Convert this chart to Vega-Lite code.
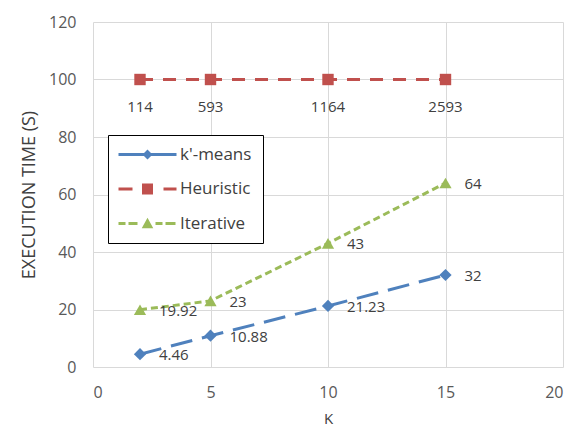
{
  "$schema": "https://vega.github.io/schema/vega-lite/v6.json",
  "width": 470,
  "height": 345,
  "autosize": {"type": "none"},
  "padding": {"left": 93, "top": 22, "right": 21, "bottom": 61},
  "background": "#ffffff",
  "data": {
    "values": [
      {"series": "k'-means", "k": 2, "time": 4.46},
      {"series": "k'-means", "k": 5, "time": 10.88},
      {"series": "k'-means", "k": 10, "time": 21.23},
      {"series": "k'-means", "k": 15, "time": 32},
      {"series": "Heuristic", "k": 2, "time": 100, "actual": 114},
      {"series": "Heuristic", "k": 5, "time": 100, "actual": 593},
      {"series": "Heuristic", "k": 10, "time": 100, "actual": 1164},
      {"series": "Heuristic", "k": 15, "time": 100, "actual": 2593},
      {"series": "Iterative", "k": 2, "time": 19.92},
      {"series": "Iterative", "k": 5, "time": 23},
      {"series": "Iterative", "k": 10, "time": 43},
      {"series": "Iterative", "k": 15, "time": 64}
    ]
  },
  "encoding": {
    "x": {
      "field": "k",
      "type": "quantitative",
      "scale": {"domain": [0, 20], "nice": false, "zero": false},
      "axis": {"values": [0, 5, 10, 15, 20], "title": "K", "labelPadding": 17, "titlePadding": 11, "titleFontSize": 15}
    },
    "y": {
      "field": "time",
      "type": "quantitative",
      "scale": {"domain": [0, 120], "nice": false},
      "axis": {"values": [0, 20, 40, 60, 80, 100, 120], "title": "EXECUTION TIME (S)", "labelPadding": 17, "titlePadding": 10}
    }
  },
  "layer": [
    {
      "mark": {"type": "line", "strokeWidth": 3},
      "encoding": {
        "color": {
          "field": "series",
          "type": "nominal",
          "scale": {"domain": ["k'-means", "Heuristic", "Iterative"], "range": ["#4f81bd", "#c0504d", "#9bbb59"]},
          "legend": {
            "title": null,
            "orient": "none",
            "legendX": 15,
            "legendY": 113,
            "padding": 11,
            "strokeColor": "#000000",
            "fillColor": "#ffffff",
            "rowPadding": 16.5,
            "symbolSize": 100,
            "symbolStrokeWidth": 0,
            "symbolOffset": 20,
            "labelOffset": 24,
            "labelFont": "Open Sans",
            "labelFontSize": 17,
            "labelColor": "#404040",
            "encode": {
              "symbols": {
                "update": {
                  "shape": {"signal": "datum.value === 'Heuristic' ? 'M-5.8,-0.3L-3,-0.3L-3,0.3L-5.8,0.3ZM3.2,-0.3L5.8,-0.3L5.8,0.3L3.2,0.3ZM-1.1,-1.1L1.1,-1.1L1.1,1.1L-1.1,1.1Z' : datum.value === 'Iterative' ? 'M-5.8,-0.3L-4.4,-0.3L-4.4,0.3L-5.8,0.3ZM-3.8,-0.3L-2,-0.3L-2,0.3L-3.8,0.3ZM1.6,-0.3L3,-0.3L3,0.3L1.6,0.3ZM3.6,-0.3L5.6,-0.3L5.6,0.3L3.6,0.3ZM0,-1.15L1.15,0.95L-1.15,0.95Z' : 'M-5.8,-0.3L5.8,-0.3L5.8,0.3L-5.8,0.3ZM0,-1L1,0L0,1L-1,0Z'"},
                  "fill": {"scale": "color", "field": "value"},
                  "fillOpacity": {"value": 1},
                  "strokeWidth": {"value": 0},
                  "opacity": {"value": 1}
                }
              }
            }
          }
        },
        "strokeDash": {
          "field": "series",
          "type": "nominal",
          "scale": {"domain": ["k'-means", "Heuristic", "Iterative"], "range": [[22, 10], [13, 10], [7, 4]]},
          "legend": null
        }
      }
    },
    {
      "transform": [{"filter": "datum.series === \"k'-means\""}],
      "mark": {"type": "point", "shape": "diamond", "filled": true, "opacity": 1, "size": 150},
      "encoding": {"color": {"field": "series", "type": "nominal", "legend": null}}
    },
    {
      "transform": [{"filter": "datum.series === 'Heuristic'"}],
      "mark": {"type": "point", "shape": "square", "filled": true, "opacity": 1, "size": 130},
      "encoding": {"color": {"field": "series", "type": "nominal", "legend": null}}
    },
    {
      "transform": [{"filter": "datum.series === 'Iterative'"}],
      "mark": {"type": "point", "shape": "triangle-up", "filled": true, "opacity": 1, "size": 150},
      "encoding": {"color": {"field": "series", "type": "nominal", "legend": null}}
    },
    {
      "transform": [{"filter": "datum.series !== 'Heuristic'"}],
      "mark": {"type": "text", "align": "left", "baseline": "middle", "dx": 19, "dy": 1, "font": "Open Sans", "fontSize": 15, "color": "#404040"},
      "encoding": {
        "text": {"field": "time", "type": "quantitative"}
      }
    },
    {
      "transform": [{"filter": "datum.series === 'Heuristic'"}],
      "mark": {"type": "text", "align": "center", "baseline": "middle", "dy": 27, "font": "Open Sans", "fontSize": 15, "color": "#404040"},
      "encoding": {
        "text": {"field": "actual", "type": "quantitative"}
      }
    }
  ],
  "config": {
    "view": {"stroke": null},
    "font": "Open Sans",
    "axis": {
      "gridColor": "#d9d9d9",
      "gridWidth": 1,
      "domain": false,
      "ticks": false,
      "labelFont": "Open Sans",
      "labelFontSize": 16,
      "labelColor": "#595959",
      "titleFont": "Open Sans",
      "titleFontSize": 18,
      "titleFontWeight": "normal",
      "titleColor": "#404040"
    }
  }
}
